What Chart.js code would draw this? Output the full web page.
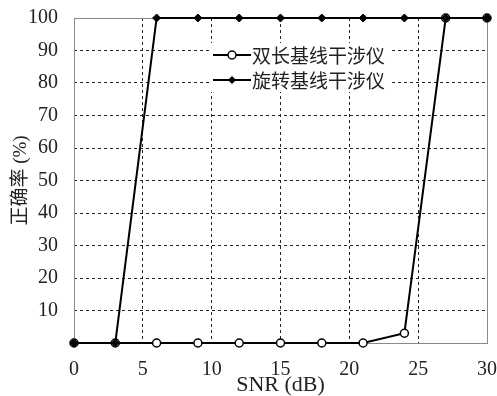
<!DOCTYPE html>
<html>
<head>
<meta charset="utf-8">
<script src="https://cdn.jsdelivr.net/npm/chart.js@4/dist/chart.umd.min.js"></script>
<style>
  html, body { margin: 0; padding: 0; background: #fff; }
  #wrap { width: 497px; height: 396px; }
</style>
</head>
<body>
<div id="wrap"><canvas id="chart"></canvas></div>
<script>
// data
const snr = [0, 3, 6, 9, 12, 15, 18, 21, 24, 27, 30];
const dualBaseline = [0, 0, 0, 0, 0, 0, 0, 0, 3, 100, 100];
const rotatingBaseline = [0, 0, 100, 100, 100, 100, 100, 100, 100, 100, 100];
const seriesNames = ['双长基线干涉仪', '旋转基线干涉仪'];
const xRange = [0, 30];
const yRange = [0, 100];

const serif = "'Liberation Serif', 'Noto Sans CJK SC', serif";
const cjk = "'Noto Sans CJK SC', sans-serif";

// frame around the plot area
const framePlugin = {
    id: 'frame',
    beforeDatasetsDraw(chart) {
        const a = chart.chartArea, ctx = chart.ctx;
        ctx.save();
        ctx.strokeStyle = '#8a8a8a';
        ctx.lineWidth = 1;
        ctx.strokeRect(Math.round(a.left) + 0.5, Math.round(a.top) + 0.5,
            Math.round(a.right - a.left), Math.round(a.bottom - a.top));
        ctx.restore();
    }
};

// legend drawn inside the plot area
const innerLegend = {
    id: 'innerLegend',
    afterDraw(chart) {
        const ctx = chart.ctx;
        const x0 = 209, y0 = 43, w = 182, h = 49;
        ctx.save();
        ctx.fillStyle = '#fff';
        ctx.fillRect(x0, y0, w, h);
        chart.data.datasets.forEach((ds, i) => {
            const y = 55 + i * 25;
            ctx.strokeStyle = '#000';
            ctx.lineWidth = 2;
            ctx.beginPath();
            ctx.moveTo(213, y);
            ctx.lineTo(251, y);
            ctx.stroke();
            ctx.fillStyle = ds.pointBackgroundColor;
            ctx.strokeStyle = ds.pointBorderColor;
            ctx.lineWidth = ds.pointBorderWidth;
            ctx.beginPath();
            if (ds.pointStyle === 'circle') {
                ctx.arc(232, y, ds.pointRadius, 0, Math.PI * 2);
            } else {
                const r = ds.pointRadius - 0.5;
                ctx.moveTo(232, y - r); ctx.lineTo(232 + r, y);
                ctx.lineTo(232, y + r); ctx.lineTo(232 - r, y);
                ctx.closePath();
            }
            ctx.fill();
            ctx.stroke();
            ctx.fillStyle = '#222';
            ctx.font = '19px ' + cjk;
            ctx.textBaseline = 'middle';
            ctx.fillText(ds.label, 252, y + 1);
        });
        ctx.restore();
    }
};

const edgeGrid = (lo, hi) => (c) =>
    (c.tick && (c.tick.value === lo || c.tick.value === hi)) ? 'rgba(0,0,0,0)' : '#222';

new Chart(document.getElementById('chart'), {
    type: 'line',
    data: {
        datasets: [
            {
                label: seriesNames[0],
                data: snr.map((x, i) => ({ x: x, y: dualBaseline[i] })),
                borderColor: '#000',
                borderWidth: 2,
                pointStyle: 'circle',
                pointRadius: 4,
                pointBorderWidth: 1.5,
                pointBackgroundColor: '#fff',
                pointBorderColor: '#000',
                tension: 0,
                clip: false,
                order: 1
            },
            {
                label: seriesNames[1],
                data: snr.map((x, i) => ({ x: x, y: rotatingBaseline[i] })),
                borderColor: '#000',
                borderWidth: 2,
                pointStyle: 'rectRot',
                pointRadius: 4,
                pointBorderWidth: 1,
                pointBackgroundColor: '#000',
                pointBorderColor: '#000',
                tension: 0,
                clip: false,
                order: 0
            }
        ]
    },
    options: {
        responsive: true,
        maintainAspectRatio: false,
        animation: false,
        layout: { padding: { top: 18, right: 10, left: 0, bottom: 0 } },
        plugins: {
            legend: { display: false },
            tooltip: { enabled: false }
        },
        scales: {
            x: {
                type: 'linear',
                min: xRange[0],
                max: xRange[1],
                afterFit: (s) => { s.height = 53; s.paddingLeft = 0; s.paddingRight = 0; },
                ticks: {
                    stepSize: 5,
                    color: '#222',
                    padding: 15,
                    maxRotation: 0,
                    font: { family: serif, size: 20 }
                },
                grid: { color: edgeGrid(xRange[0], xRange[1]), lineWidth: 1, drawTicks: false },
                border: { display: false, dash: [3, 3] },
                title: {
                    display: true,
                    text: 'SNR (dB)',
                    color: '#222',
                    padding: { top: 0, bottom: 0 },
                    font: { family: serif, size: 22, lineHeight: 1 }
                }
            },
            y: {
                min: yRange[0],
                max: yRange[1],
                afterFit: (s) => { s.width = 74; s.paddingTop = 0; s.paddingBottom = 0; },
                ticks: {
                    stepSize: 10,
                    color: '#222',
                    padding: 16,
                    font: { family: serif, size: 20 },
                    callback: (v) => v === 0 ? '' : v
                },
                grid: { color: edgeGrid(yRange[0], yRange[1]), lineWidth: 1, drawTicks: false },
                border: { display: false, dash: [3, 3] },
                title: {
                    display: true,
                    text: '正确率 (%)',
                    color: '#222',
                    padding: { top: 10, bottom: 4 },
                    font: { family: serif, size: 19 }
                }
            }
        }
    },
    plugins: [framePlugin, innerLegend]
});
</script>
</body>
</html>
